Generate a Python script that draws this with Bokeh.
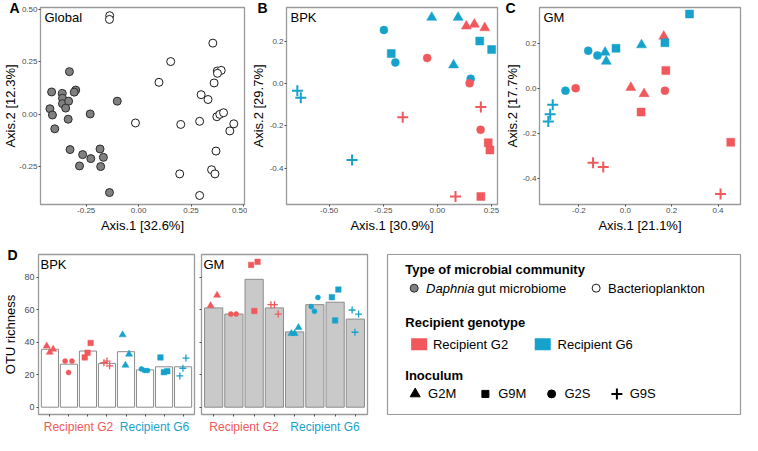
from bokeh.plotting import figure
from bokeh.layouts import row, column
from bokeh.models import Range1d, FixedTicker, NumeralTickFormatter, Label, Title
from bokeh.embed import file_html
from bokeh.resources import INLINE
from bokeh.core.properties import value

FONT = "Liberation Sans"
RED = "#F0585C"
BLUE = "#17A2CC"
FRAME = "#9A9A9A"
TICK = "#4D4D4D"

# ---------------- Panel A: Global ordination ----------------
gut_x = [-0.330, -0.415, -0.364, -0.363, -0.300, -0.307, -0.363, -0.334, -0.348, -0.423, -0.411, -0.336,
         -0.231, -0.102, -0.400, -0.327, -0.267, -0.228, -0.282, -0.184, -0.168, -0.181, -0.139]
gut_y = [0.204, 0.107, 0.100, 0.077, 0.116, 0.106, 0.051, 0.063, 0.030, 0.027, -0.003, -0.023,
         0.002, 0.063, -0.069, -0.168, -0.192, -0.211, -0.246, -0.165, -0.205, -0.249, -0.373]
bac_x = [-0.138, -0.139, 0.354, 0.153, 0.375, 0.394, 0.376, 0.097, 0.360, 0.298, 0.331, 0.373,
         0.387, 0.405, -0.015, 0.201, 0.291, 0.454, 0.435, 0.369, 0.348, 0.364, 0.196, 0.291]
bac_y = [0.471, 0.453, 0.340, 0.252, 0.207, 0.210, 0.196, 0.153, 0.150, 0.094, 0.071, -0.011,
         0.000, 0.008, -0.041, -0.048, -0.033, -0.045, -0.079, -0.175, -0.264, -0.284, -0.284, -0.387]

# ---------------- Panel B: BPK ordination ----------------
bpk_x = [-0.026, 0.096, 0.134, 0.171, 0.219, -0.247, 0.196, 0.251, -0.213, -0.047, -0.194, 0.075,
         0.154, 0.149, -0.647, -0.631, 0.201, -0.160, 0.200, 0.235, 0.243, -0.394, 0.084, 0.201]
bpk_y = [0.311, 0.311, 0.270, 0.279, 0.262, 0.252, 0.200, 0.160, 0.141, 0.120, 0.099, 0.087,
         0.022, 0.001, -0.034, -0.067, -0.111, -0.159, -0.218, -0.279, -0.313, -0.360, -0.532, -0.532]
bpk_recipient = ["G6", "G6", "G2", "G2", "G2", "G6", "G6", "G6", "G6", "G2", "G6", "G6",
                 "G6", "G2", "G6", "G6", "G2", "G2", "G2", "G2", "G2", "G6", "G2", "G2"]
bpk_inoculum = ["G2M", "G2M", "G2M", "G2M", "G2M", "G2S", "G9M", "G9M", "G9M", "G2S", "G2S", "G2M",
                "G2S", "G2S", "G9S", "G9S", "G9S", "G9S", "G2S", "G9M", "G9M", "G9S", "G9S", "G9M"]

# ---------------- Panel C: GM ordination ----------------
gm_x = [0.277, 0.166, 0.171, 0.070, -0.040, -0.160, -0.087, -0.120, -0.082, 0.175, -0.258, -0.214,
        0.024, 0.081, 0.171, -0.313, 0.068, -0.324, -0.332, 0.455, -0.139, -0.095, 0.411]
gm_y = [0.329, 0.230, 0.202, 0.192, 0.177, 0.166, 0.159, 0.145, 0.119, 0.079, -0.011, 0.000,
        0.003, -0.025, -0.011, -0.074, -0.106, -0.116, -0.148, -0.240, -0.331, -0.350, -0.469]
gm_recipient = ["G6", "G2", "G6", "G6", "G6", "G6", "G6", "G6", "G6", "G2", "G6", "G2",
                "G2", "G2", "G2", "G6", "G2", "G6", "G6", "G2", "G2", "G2", "G2"]
gm_inoculum = ["G9M", "G2M", "G9M", "G2M", "G9M", "G2S", "G2M", "G2S", "G2M", "G9M", "G2S", "G2S",
               "G2M", "G2M", "G2S", "G9S", "G9M", "G9S", "G9S", "G9M", "G9S", "G9S", "G9S"]

# ---------------- Panel D: OTU richness ----------------
bar_pos = [1, 2, 3, 4, 5, 6, 7, 8]
bpk_bar = [35.7, 26.5, 34.6, 27.0, 34.2, 23.0, 24.9, 24.9]
gm_bar = [61.2, 57.4, 78.8, 61.2, 46.4, 63.2, 64.7, 54.3]

bpk_rich_x = [0.83, 0.99, 1.17, 1.80, 2.16, 1.98, 2.83, 2.98, 3.14, 3.84, 4.00, 4.14,
              4.82, 4.97, 5.16, 5.81, 5.97, 6.13, 6.81, 6.99, 7.17, 7.83, 7.99, 8.15]
bpk_rich_y = [37.7, 33.8, 35.7, 28.4, 28.4, 21.4, 30.7, 33.6, 39.6, 27.4, 28.4, 25.5,
              44.6, 25.9, 32.7, 23.6, 22.6, 22.6, 30.7, 21.6, 22.2, 19.3, 24.0, 30.3]
bpk_rich_recipient = ["G2"] * 12 + ["G6"] * 12
bpk_rich_inoculum = (["G2M"] * 3 + ["G2S"] * 3 + ["G9M"] * 3 + ["G9S"] * 3) * 2

gm_rich_x = [0.85, 1.17, 1.85, 2.11, 2.85, 3.17, 3.01, 3.83, 4.00, 4.19, 4.84,
             5.00, 5.19, 5.82, 5.98, 6.15, 6.84, 7.16, 7.00, 7.84, 8.16, 7.98]
gm_rich_y = [62.6, 69.0, 57.4, 57.4, 87.7, 89.6, 59.3, 63.2, 63.2, 57.4, 45.4,
             45.4, 49.1, 62.0, 59.1, 67.6, 67.8, 72.5, 53.5, 59.9, 57.4, 46.2]
gm_rich_recipient = ["G2"] * 10 + ["G6"] * 12
gm_rich_inoculum = (["G2M"] * 2 + ["G2S"] * 2 + ["G9M"] * 3 + ["G9S"] * 3 +
                    ["G2M"] * 3 + ["G2S"] * 3 + ["G9M"] * 3 + ["G9S"] * 3)

recipient_names = ["Recipient G2", "Recipient G6"]
recipient_center = [2.5, 6.5]
inoculum_names = ["G2M", "G9M", "G2S", "G9S"]

COLOR = {"G2": RED, "G6": BLUE}
MARK = {"G2M": "triangle", "G9M": "square", "G2S": "circle", "G9S": "cross"}
ORD_SIZE = {"G2M": 10, "G9M": 8, "G2S": 8, "G9S": 11}
RICH_SIZE = {"G2M": 7, "G9M": 5.5, "G2S": 5, "G9S": 7}


def make_fig(w, h, xr, yr, ml, mr, mt, mb, axes=True):
    kw = {}
    if not axes:
        kw = dict(x_axis_type=None, y_axis_type=None)
    xr_obj = xr if isinstance(xr, Range1d) else Range1d(*xr)
    p = figure(width=w, height=h, x_range=xr_obj, y_range=Range1d(*yr),
               output_backend="svg", toolbar_location=None, title=None,
               min_border_left=ml, min_border_right=mr, min_border_top=mt,
               min_border_bottom=mb, **kw)
    p.xgrid.visible = False
    p.ygrid.visible = False
    p.outline_line_color = FRAME
    p.outline_line_width = 1.3
    p.background_fill_color = "white"
    p.border_fill_color = "white"
    for ax in p.axis:
        ax.axis_line_color = None
        ax.major_tick_line_color = TICK
        ax.major_tick_out = 2
        ax.major_tick_in = 0
        ax.minor_tick_line_color = None
        ax.major_label_text_font = FONT
        ax.major_label_text_font_size = "8px"
        ax.major_label_text_color = TICK
        ax.major_label_standoff = 1
        ax.axis_label_text_font = FONT
        ax.axis_label_text_font_size = "13px"
        ax.axis_label_text_font_style = "normal"
        ax.axis_label_text_color = "black"
        ax.axis_label_standoff = 2
    return p


def label(p, x, y, text, size="13px", bold=False, color="black", align="left",
          baseline="top", xu="screen", yu="screen", italic=False):
    style = "bold" if bold else ("italic" if italic else "normal")
    p.add_layout(Label(x=x, y=y, x_units=xu, y_units=yu, text=text, text_font=FONT,
                       text_font_size=size, text_font_style=style, text_color=color,
                       text_align=align, text_baseline=baseline))


def letter(p, text, offset):
    p.add_layout(Title(text=text, align="left", offset=offset, standoff=-16,
                       text_font=FONT, text_font_size="14px", text_font_style="bold",
                       text_color="black"), "above")


def ord_points(p, xs, ys, recs, inocs, sizes, cross_width):
    for ino in inoculum_names:
        idx = [i for i, v in enumerate(inocs) if v == ino]
        if not idx:
            continue
        cx = [xs[i] for i in idx]
        cy = [ys[i] for i in idx]
        cols = [COLOR[recs[i]] for i in idx]
        if MARK[ino] == "cross":
            p.scatter(cx, cy, marker="cross", size=sizes[ino], line_color=cols, line_width=cross_width)
        else:
            p.scatter(cx, cy, marker=MARK[ino], size=sizes[ino], fill_color=cols,
                      line_color=cols, line_width=0.5)


TOP_H, TOP_MT, TOP_MB = 238, 7, 34
fh_top = TOP_H - TOP_MT - TOP_MB

# ---- A ----
pA = make_fig(247, TOP_H, (-0.468, 0.505), (-0.43, 0.51), 33, 3, TOP_MT, TOP_MB)
pA.scatter(gut_x, gut_y, marker="circle", size=8, fill_color="#808080", line_color="#2b2b2b", line_width=1)
pA.scatter(bac_x, bac_y, marker="circle", size=8, fill_color="white", line_color="#1a1a1a", line_width=1)
pA.xaxis.ticker = FixedTicker(ticks=[-0.25, 0, 0.25, 0.5])
pA.yaxis.ticker = FixedTicker(ticks=[-0.25, 0, 0.25, 0.5])
pA.xaxis.formatter = NumeralTickFormatter(format="0.00")
pA.yaxis.formatter = NumeralTickFormatter(format="0.00")
pA.xaxis.axis_label = "Axis.1 [32.6%]"
pA.yaxis.axis_label = "Axis.2 [12.3%]"
pA.yaxis.axis_label_standoff = -2
letter(pA, "A", -31)
label(pA, 4, fh_top - 2, "Global")

# ---- B ----
pB = make_fig(253, TOP_H, (-0.697, 0.278), (-0.57, 0.358), 34, 3, TOP_MT, TOP_MB)
ord_points(pB, bpk_x, bpk_y, bpk_recipient, bpk_inoculum, ORD_SIZE, 2)
pB.xaxis.ticker = FixedTicker(ticks=[-0.5, -0.25, 0, 0.25])
pB.yaxis.ticker = FixedTicker(ticks=[-0.4, -0.2, 0, 0.2])
pB.xaxis.formatter = NumeralTickFormatter(format="0.00")
pB.yaxis.formatter = NumeralTickFormatter(format="0.0")
pB.xaxis.axis_label = "Axis.1 [30.9%]"
pB.yaxis.axis_label = "Axis.2 [29.7%]"
pB.yaxis.axis_label_standoff = 1
letter(pB, "B", -29)
label(pB, 4, fh_top - 2, "BPK")

# ---- C ----
pC = make_fig(242, TOP_H, (-0.37, 0.497), (-0.516, 0.358), 39, 2, TOP_MT, TOP_MB)
ord_points(pC, gm_x, gm_y, gm_recipient, gm_inoculum, ORD_SIZE, 2)
pC.xaxis.ticker = FixedTicker(ticks=[-0.2, 0, 0.2, 0.4])
pC.yaxis.ticker = FixedTicker(ticks=[-0.4, -0.2, 0, 0.2])
pC.xaxis.formatter = NumeralTickFormatter(format="0.0")
pC.yaxis.formatter = NumeralTickFormatter(format="0.0")
pC.xaxis.axis_label = "Axis.1 [21.1%]"
pC.yaxis.axis_label = "Axis.2 [17.7%]"
pC.yaxis.axis_label_standoff = 0
letter(pC, "C", -34)
label(pC, 4, fh_top - 2, "GM")

# ---- D ----
D_H, D_MT, D_MB = 180, 16, 4
STRIP_H = 17
fhD = D_H - D_MT - D_MB
yrD = (-4.5, 94.1)


def rich_fig(w, ml, mr, bars, fill, xs, ys, recs, inocs, title, show_y):
    xr = Range1d(0.4, 8.6)
    p = make_fig(w, D_H, xr, yrD, ml, mr, D_MT, D_MB)
    p.vbar(x=bar_pos, top=bars, bottom=0, width=0.9, fill_color=fill, line_color="#8C8C8C", line_width=1)
    ord_points(p, xs, ys, recs, inocs, RICH_SIZE, 1.3)
    p.xaxis.ticker = FixedTicker(ticks=bar_pos)
    p.xaxis.major_label_overrides = {t: "" for t in bar_pos}
    p.xaxis.major_label_standoff = -9
    p.yaxis.ticker = FixedTicker(ticks=[0, 20, 40, 60, 80])
    if show_y:
        p.yaxis.major_label_text_font_size = "9px"
        p.yaxis.major_label_standoff = 2
    else:
        p.yaxis.major_label_overrides = {t: "" for t in [0, 20, 40, 60, 80]}
        p.yaxis.major_label_standoff = -9
    label(p, 2, fhD - 2, title)

    s = make_fig(w, STRIP_H, xr, (STRIP_H, 0), ml, mr, 0, 0, axes=False)
    s.outline_line_color = None
    s.text(x=recipient_center, y=[8, 8], text=recipient_names,
           text_color=[RED, BLUE], text_font=value(FONT), text_font_size="12px",
           text_align="center", text_baseline="middle")
    return p, s


pD1, sD1 = rich_fig(197, 33, 3, bpk_bar, "white", bpk_rich_x, bpk_rich_y,
                    bpk_rich_recipient, bpk_rich_inoculum, "BPK", True)
pD1.yaxis.axis_label = "OTU richness"
pD1.yaxis.axis_label_standoff = 3
letter(pD1, "D", -31)

pD2, sD2 = rich_fig(172, 4, 2, gm_bar, "#C9C9C9", gm_rich_x, gm_rich_y,
                    gm_rich_recipient, gm_rich_inoculum, "GM", False)

# ---- Legend panel ----
pL = make_fig(373, D_H + STRIP_H, (0, 357), (171, 0), 18, 2, D_MT, 21, axes=False)
pL.outline_line_width = 1.2
label(pL, 18, 16, "Type of microbial community", bold=True, baseline="middle", xu="data", yu="data")
pL.scatter([27], [36], marker="circle", size=8, fill_color="#808080", line_color="#2b2b2b", line_width=1)
label(pL, 39, 36, "Daphnia", italic=True, baseline="middle", xu="data", yu="data")
label(pL, 91, 36, "gut microbiome", baseline="middle", xu="data", yu="data")
pL.scatter([211], [36], marker="circle", size=8, fill_color="white", line_color="#1a1a1a", line_width=1)
label(pL, 223, 36, "Bacterioplankton", baseline="middle", xu="data", yu="data")

label(pL, 18, 73, "Recipient genotype", bold=True, baseline="middle", xu="data", yu="data")
pL.rect([32, 157], [96, 96], width=16, height=12, width_units="screen", height_units="screen",
        fill_color=[RED, BLUE], line_color=None)
label(pL, 46, 96, recipient_names[0], baseline="middle", xu="data", yu="data")
label(pL, 172, 96, recipient_names[1], baseline="middle", xu="data", yu="data")

label(pL, 18, 129, "Inoculum", bold=True, baseline="middle", xu="data", yu="data")
leg_x = [28, 99, 166, 232]
leg_size = {"G2M": 10, "G9M": 7, "G2S": 8, "G9S": 11}
for xi, ino in zip(leg_x, inoculum_names):
    if MARK[ino] == "cross":
        pL.scatter([xi], [149], marker="cross", size=leg_size[ino], line_color="black", line_width=2)
    else:
        pL.scatter([xi], [149], marker=MARK[ino], size=leg_size[ino], fill_color="black", line_color="black")
    label(pL, xi + 13, 149, ino, baseline="middle", xu="data", yu="data")

layout = column(row(pA, pB, pC),
                row(column(pD1, sD1), column(pD2, sD2), pL))
open("out.html", "w").write(file_html(layout, INLINE))
